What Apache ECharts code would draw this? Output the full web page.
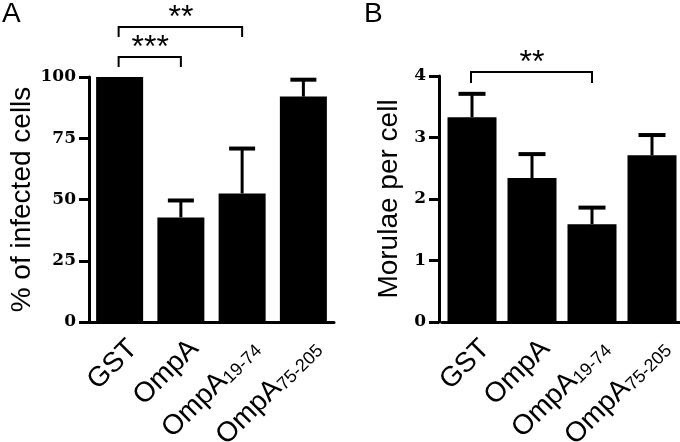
<!DOCTYPE html>
<html>
<head>
<meta charset="utf-8">
<script src="https://cdn.jsdelivr.net/npm/echarts@6/dist/echarts.min.js"></script>
<style>
html,body{margin:0;padding:0;background:#fff;}
#chart{width:680px;height:442px;}
</style>
</head>
<body>
<div id="chart"></div>
<script>
// ---- data ----
const categories = ['GST', 'OmpA', 'OmpA', 'OmpA'];
const categorySubscripts = ['', '', '19-74', '75-205'];

const infectedMean = [100, 42.7, 52.5, 92.0];
const infectedErr = [0, 6.9, 18.3, 6.9];
const infectedTicks = [0, 25, 50, 75, 100];

const moruleaMean = [3.33, 2.34, 1.59, 2.71];
const moruleaErr = [0.38, 0.39, 0.27, 0.33];
const moruleaTicks = [0, 1, 2, 3, 4];

// brackets: [fromIndex, toIndex, level (axis units)]
const bracketsA = [[0, 1, 108.2], [0, 2, 120.4]];
const bracketLabelsA = ['***', '**'];
const bracketsB = [[0, 2, 4.065]];
const bracketLabelsB = ['**'];

// ---- chart ----
const SANS = "'Liberation Sans', Arial, sans-serif";
const chart = echarts.init(document.getElementById('chart'), null, {renderer: 'canvas'});

function xAxisFor(gridIndex) {
  return {
    type: 'category', gridIndex: gridIndex, data: categories,
    axisLine: {lineStyle: {color: '#000', width: 3}},
    axisTick: {alignWithLabel: true, length: 8, lineStyle: {color: '#000', width: 3}},
    axisLabel: {
      interval: 0, rotate: 45, margin: 9, color: '#000',
      verticalAlign: 'top', align: 'right', padding: [5, 0, 0, 0],
      formatter: function (v, i) {
        const s = categorySubscripts[i];
        return '{m|' + v + '}' + (s ? '{s|' + s + '}' : '');
      },
      rich: {
        m: {fontFamily: SANS, fontSize: 28, color: '#000', lineHeight: 28},
        s: {fontFamily: SANS, fontSize: 18, color: '#000', verticalAlign: 'bottom', lineHeight: 12}
      }
    },
    splitLine: {show: false}
  };
}

function yAxisFor(gridIndex, ticks, name, nameGap, offset) {
  return {
    type: 'value', gridIndex: gridIndex,
    min: ticks[0], max: ticks[ticks.length - 1], interval: ticks[1] - ticks[0],
    offset: offset,
    name: name, nameLocation: 'middle', nameRotate: 90, nameGap: nameGap,
    nameTextStyle: {fontFamily: SANS, fontSize: 28, color: '#000'},
    axisLine: {show: true, lineStyle: {color: '#000', width: 3}},
    axisTick: {show: true, length: 10, lineStyle: {color: '#000', width: 3}},
    axisLabel: {margin: 13, color: '#000', fontFamily: "'DejaVu Serif', serif", fontWeight: 'bold', fontSize: 17},
    splitLine: {show: false}
  };
}

function errorSeries(idx, mean, err, cap) {
  return {
    type: 'custom', xAxisIndex: idx, yAxisIndex: idx, z: 5, clip: false,
    data: mean.map(function (m, i) { return [i, m, err[i]]; }),
    encode: {x: 0, y: 1},
    renderItem: function (params, api) {
      const x = api.value(0), m = api.value(1), e = api.value(2);
      if (!e) return null;
      const base = api.coord([x, m]);
      const top = api.coord([x, m + e]);
      return {
        type: 'group',
        children: [
          {type: 'line', shape: {x1: base[0], y1: base[1], x2: top[0], y2: top[1]}, style: {stroke: '#000', lineWidth: 3}},
          {type: 'line', shape: {x1: top[0] - cap / 2, y1: top[1], x2: top[0] + cap / 2, y2: top[1]}, style: {stroke: '#000', lineWidth: 4}}
        ]
      };
    }
  };
}

function bracketSeries(idx, brackets, labels, drop) {
  return {
    type: 'custom', xAxisIndex: idx, yAxisIndex: idx, z: 6, clip: false,
    data: brackets,
    encode: {x: 0, y: 2},
    renderItem: function (params, api) {
      const b = brackets[params.dataIndex];
      const p1 = api.coord([b[0], b[2]]);
      const p2 = api.coord([b[1], b[2]]);
      const y = p1[1];
      return {
        type: 'group',
        children: [
          {type: 'polyline', shape: {points: [[p1[0] - 1, y + drop], [p1[0] - 1, y], [p2[0], y], [p2[0], y + drop]]},
           style: {stroke: '#000', lineWidth: 2, fill: null}},
          {type: 'text', x: (p1[0] + p2[0]) / 2, y: y - 9,
           style: {text: labels[params.dataIndex], fontFamily: SANS, fontSize: 32, fill: '#000',
                   align: 'center', verticalAlign: 'middle'}}
        ]
      };
    }
  };
}

chart.setOption({
  animation: false,
  backgroundColor: '#fff',
  grid: [
    {left: 89, top: 77, width: 245, height: 245, containLabel: false, outerBoundsMode: 'none'},
    {left: 442, top: 76, width: 240, height: 246, containLabel: false, outerBoundsMode: 'none'}
  ],
  xAxis: [xAxisFor(0), xAxisFor(1)],
  yAxis: [
    yAxisFor(0, infectedTicks, '% of infected cells', 50, 0),
    yAxisFor(1, moruleaTicks, 'Morulae per cell', 36, 3)
  ],
  graphic: [
    {type: 'text', left: 2, top: 0, style: {text: 'A', fontFamily: SANS, fontSize: 28, fill: '#000'}},
    {type: 'text', left: 364, top: 0, style: {text: 'B', fontFamily: SANS, fontSize: 28, fill: '#000'}}
  ],
  series: [
    {type: 'bar', xAxisIndex: 0, yAxisIndex: 0, data: infectedMean, barWidth: 47, itemStyle: {color: '#000'}},
    {type: 'bar', xAxisIndex: 1, yAxisIndex: 1, data: moruleaMean, barWidth: 49, itemStyle: {color: '#000'}},
    errorSeries(0, infectedMean, infectedErr, 26),
    errorSeries(1, moruleaMean, moruleaErr, 27),
    bracketSeries(0, bracketsA, bracketLabelsA, 10),
    bracketSeries(1, bracketsB, bracketLabelsB, 11)
  ]
});
</script>
</body>
</html>
